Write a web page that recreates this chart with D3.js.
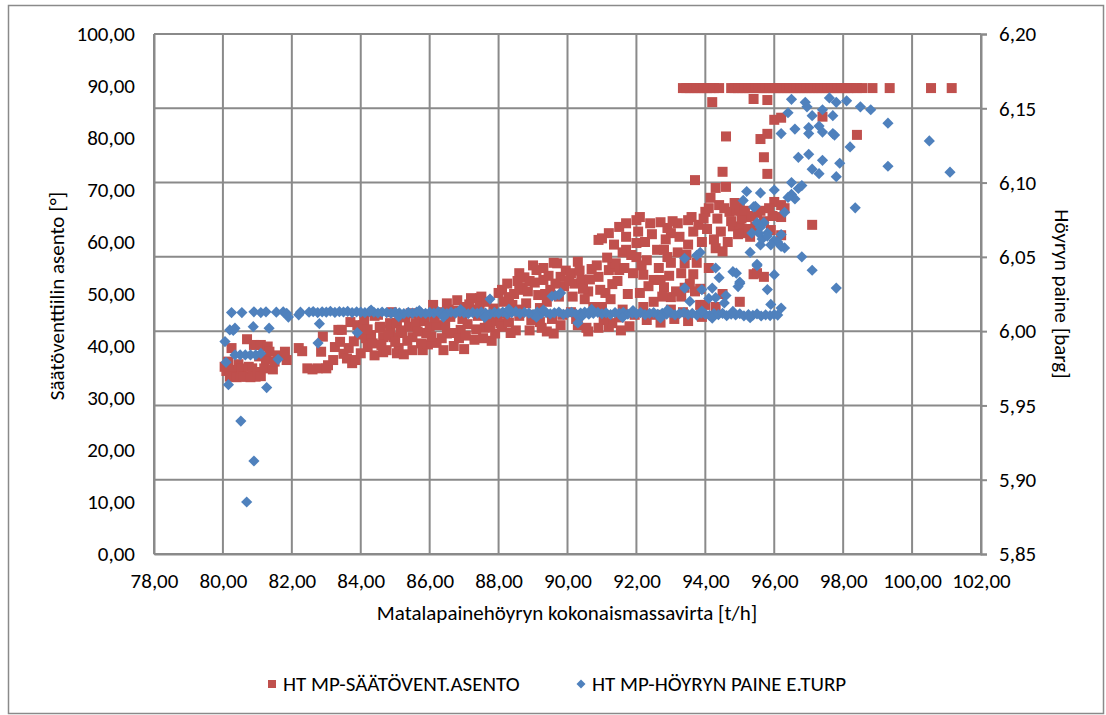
<!DOCTYPE html>
<html><head><meta charset="utf-8">
<script src="https://cdn.jsdelivr.net/npm/d3@7"></script>
<style>
body{margin:0;background:#fff}
svg text{font-family:Carlito,Lato,"Open Sans",sans-serif;fill:#000}
</style>
</head><body><svg id="c" width="1106" height="715"></svg>
<script>
// ---------- tick labels ----------
const xTicks = [78,80,82,84,86,88,90,92,94,96,98,100,102];
const leftTicks = [0,10,20,30,40,50,60,70,80,90,100];
const rightTicks = [5.85,5.90,5.95,6.00,6.05,6.10,6.15,6.20];

const seriesNames = ["HT MP-SÄÄTÖVENT.ASENTO","HT MP-HÖYRYN PAINE E.TURP"];
const xTitle = "Matalapainehöyryn kokonaismassavirta [t/h]";
const leftTitle = "Säätöventtiilin asento [°]";
const rightTitle = "Höyryn paine [barg]";

// ---------- series 1: valve position [°] (left axis) ----------
const asentoPoints = [
[80.05,36.0],[80.1,35.2],[80.15,37.0],[80.2,34.1],[80.25,39.6],[80.3,35.4],[80.35,34.1],[80.4,34.0],[80.45,36.5],[80.5,34.2],
[80.55,35.7],[80.6,34.1],[80.7,34.1],[80.7,41.3],[80.75,36.0],[80.8,34.0],[80.85,35.7],[80.9,40.2],[80.95,34.1],[81.0,35.0],
[81.05,38.0],[81.1,34.2],[81.1,40.2],[81.2,35.7],[81.25,37.5],[81.3,39.9],[81.35,38.9],[81.45,35.5],[81.5,37.0],[81.6,38.2],
[81.8,38.9],[81.85,37.3],
[82.2,39.6],[82.3,39.0],[82.45,35.7],[82.6,35.5],[82.75,35.7],[82.85,38.9],[82.9,41.8],[83.0,35.7],[83.05,36.3],[83.2,37.3],
[83.25,39.8],[83.35,43.1],[83.4,40.8],[83.45,43.1],[83.5,38.5],[83.6,37.6],[83.65,39.6],[83.7,44.6],[83.75,36.7],[83.8,40.9],
[83.85,37.3],[83.9,44.0],[83.95,42.2],[84.0,38.6],
[84.07,44.0],[84.1,45.0],[84.15,41.5],[84.2,39.8],[84.3,42.1],[84.4,38.2],[84.55,43.5],[84.56,43.7],[84.65,41.7],[84.65,38.8],
[84.75,39.2],[84.85,43.1],[84.85,44.4],[84.95,41.7],[85.05,44.4],[85.05,38.6],[85.1,39.6],[85.2,42.5],[85.3,45.5],[85.4,43.7],
[85.5,41.7],[85.5,39.2],[85.6,44.4],[85.7,46.0],[85.8,39.2],[85.9,42.5],[85.95,40.3],[84.4,45.8],[84.9,46.5],[85.25,38.4],
[84.2,43.2],[84.35,40.5],[84.5,46.0],[84.6,40.2],[84.8,42.0],[85.0,40.8],[85.15,43.0],[85.35,41.0],[85.45,46.3],[85.65,42.8],
[85.75,40.5],[85.85,44.8],
[86.0,43.7],[86.1,47.9],[86.2,40.6],[86.2,44.0],[86.3,46.5],[86.4,39.2],[86.5,48.2],[86.5,42.4],[86.6,45.6],[86.7,40.0],
[86.8,48.8],[86.9,43.1],[87.0,47.5],[87.0,39.4],[87.1,44.2],[87.2,49.2],[87.3,41.2],[87.4,45.8],[87.46,49.2],[87.5,49.5],
[87.6,43.5],[87.7,45.0],[87.8,41.0],[87.9,42.4],[86.35,41.5],[87.25,47.0],
[86.05,41.8],[86.15,45.5],[86.45,44.0],[86.55,47.0],[86.65,42.5],[86.75,46.8],[86.85,41.5],[86.95,45.2],[87.05,42.0],[87.15,48.0],
[87.35,43.2],[87.45,47.5],[87.55,41.5],[87.65,48.5],[87.75,43.8],[87.85,47.2],[87.95,44.8],
[88.0,50.2],[88.05,44.4],[88.1,50.8],[88.1,43.7],[88.2,46.3],[88.3,49.4],[88.3,44.5],[88.4,47.9],[88.5,43.0],[88.6,54.0],
[88.6,50.8],[88.6,45.8],[88.7,51.3],[88.75,53.2],[88.8,48.2],[88.9,52.5],[88.9,43.0],[89.0,55.5],[89.0,46.0],[89.1,54.6],
[89.2,47.3],[89.2,44.6],[89.3,55.0],[89.3,52.7],[89.4,48.5],[89.4,42.8],[89.5,50.8],[89.6,56.0],[89.6,42.4],[89.7,55.9],
[89.8,53.3],[89.8,44.0],[89.9,51.5],
[88.15,48.5],[88.25,52.0],[88.35,42.5],[88.45,50.0],[88.55,52.5],[88.65,47.0],[88.85,50.5],[88.95,45.0],[89.05,52.2],[89.15,49.8],
[89.25,43.5],[89.35,50.0],[89.45,53.5],[89.55,45.2],[89.65,52.0],[89.75,49.5],[89.85,46.0],[89.95,54.5],
[90.1,54.0],[90.1,46.5],[90.2,52.0],[90.3,56.2],[90.3,44.0],[90.4,52.7],[90.5,49.0],[90.6,50.5],[90.6,42.8],[90.7,54.8],
[90.9,53.3],[90.9,60.4],[90.9,43.5],[91.0,60.7],[91.0,47.5],[91.1,50.2],[91.2,61.7],[91.2,54.6],[91.2,43.7],[91.3,55.2],
[91.3,51.9],[91.3,44.4],[91.4,55.9],[91.5,54.6],[91.5,62.9],[91.5,45.5],[91.6,58.0],[91.6,47.0],[91.7,63.6],[91.7,61.0],
[91.7,58.5],[91.8,43.8],[91.9,54.0],[92.0,64.2],[92.0,59.8],[92.0,57.1],
[90.05,52.5],[90.15,49.5],[90.25,45.2],[90.35,54.5],[90.45,51.0],[90.55,43.5],[90.65,52.8],[90.75,47.5],[90.85,55.5],[90.95,50.8],
[91.05,45.0],[91.15,57.0],[91.25,49.0],[91.35,59.5],[91.45,52.5],[91.55,43.0],[91.65,55.0],[91.75,50.0],[91.85,57.5],[91.95,46.0],
[92.1,64.8],[92.1,50.2],[92.2,53.7],[92.2,47.5],[92.3,56.5],[92.3,45.0],[92.4,63.6],[92.5,52.7],[92.5,48.5],[92.6,58.5],
[92.7,63.8],[92.7,52.7],[92.7,44.5],[92.8,58.5],[92.8,51.3],[92.9,62.7],[92.9,57.1],[93.0,61.7],[93.0,56.0],[93.0,49.4],
[93.0,47.0],[93.1,45.2],[93.2,63.6],[93.2,58.0],[93.3,54.0],[93.3,49.5],[93.4,55.9],[93.4,51.2],[93.5,64.2],[93.5,59.5],
[93.5,44.8],[93.6,64.8],[93.65,53.8],[93.7,71.9],[93.7,50.5],[93.8,63.3],[93.85,47.9],[93.9,60.0],[93.9,45.6],[94.0,65.8],
[94.0,47.9],
[92.05,62.0],[92.15,55.5],[92.25,60.0],[92.35,51.5],[92.45,61.5],[92.55,46.0],[92.65,55.0],[92.75,49.5],[92.85,60.5],[92.95,53.5],
[93.05,64.0],[93.15,50.5],[93.25,61.0],[93.35,46.5],[93.45,57.5],[93.55,52.0],[93.65,62.0],[93.75,56.0],[93.85,51.0],[93.95,64.5],
[94.1,66.5],[94.1,55.0],[94.2,86.9],[94.3,70.4],[94.3,58.8],[94.3,47.5],[94.4,67.1],[94.5,73.5],[94.5,58.2],[94.5,50.0],
[94.6,80.3],[94.6,70.6],[94.7,65.8],[94.8,63.0],[94.9,66.0],[95.0,66.7],[95.0,62.7],[95.0,48.5],[95.1,61.7],[95.2,64.8],
[95.3,61.0],[95.4,87.5],[95.4,53.8],[95.5,65.6],[95.5,54.0],[95.6,79.8],[95.7,76.3],[95.7,53.3],[95.8,87.3],[95.8,80.8],
[95.8,73.1],[95.9,62.3],[96.0,83.5],[96.0,67.7],[96.2,83.9],[96.2,67.1],[96.2,64.8],[96.2,61.3],[96.3,66.5],
[94.05,62.5],[94.15,68.5],[94.25,60.5],[94.35,64.5],[94.45,62.0],[94.55,66.5],[94.65,60.0],[94.75,64.0],[94.85,67.5],[94.95,61.5],
[95.05,64.5],[95.15,66.0],[95.25,62.5],[95.35,65.0],[95.45,63.0],[95.6,66.0],[95.7,64.0],[95.85,66.5],[95.95,65.0],
[97.1,63.3],[97.4,84.1],[98.4,80.6],
[93.35,89.6],[93.45,89.6],[93.55,89.6],[93.65,89.6],[93.75,89.6],[93.85,89.6],[93.95,89.6],[94.05,89.6],[94.15,89.6],[94.25,89.6],
[94.4,89.6],[94.75,89.6],[94.85,89.6],[94.95,89.6],[95.05,89.6],[95.15,89.6],[95.25,89.6],[95.35,89.6],[95.45,89.6],[95.55,89.6],
[95.65,89.6],[95.75,89.6],[95.85,89.6],[95.95,89.6],[96.05,89.6],[96.15,89.6],[96.25,89.6],[96.35,89.6],[96.45,89.6],[96.55,89.6],
[96.65,89.6],[96.75,89.6],[96.85,89.6],[96.95,89.6],[97.05,89.6],[97.15,89.6],[97.25,89.6],[97.35,89.6],[97.45,89.6],[97.55,89.6],
[97.65,89.6],[97.75,89.6],[97.85,89.6],[97.95,89.6],[98.05,89.6],[98.15,89.6],[98.25,89.6],[98.4,89.6],[98.55,89.6],[98.85,89.6],
[99.35,89.6],[100.55,89.6],[101.15,89.6]
];

// ---------- series 2: steam pressure [barg] (right axis) ----------
const painePoints = [
[80.2,6.0008],[80.35,6.002],[80.88,6.003],[81.34,6.002],[80.06,5.993],[80.09,5.979],[80.35,5.984],[80.5,5.984],[80.65,5.984],
[80.8,5.984],[80.95,5.984],[81.1,5.985],[81.6,5.981],[80.16,5.964],[81.27,5.962],[80.52,5.9395],[80.9,5.9126],[80.69,5.885],
[80.3,6.0005],[82.8,6.005],[82.76,5.992],[83.9,5.999],
[80.25,6.0125],[80.55,6.0125],[80.9,6.013],[81.1,6.0125],[81.25,6.013],[81.55,6.0128],[81.75,6.013],[81.85,6.012],[82.25,6.0128],
[81.9,6.0095],[82.2,6.011],
[82.5,6.0128],[82.62,6.0132],[82.75,6.0125],[82.88,6.013],[83.0,6.0128],[83.12,6.0134],[83.25,6.0126],[83.38,6.0131],[83.5,6.0129],
[83.62,6.0133],[83.75,6.0125],[83.88,6.013],[84.0,6.0128],[84.12,6.0124],[84.25,6.0131],[84.38,6.0127],[84.5,6.0122],[84.62,6.0129],
[84.75,6.0125],[84.88,6.012],[85.0,6.0127],[85.12,6.0123],[85.25,6.0118],[85.38,6.0126],[85.5,6.0121],[85.62,6.0128],[85.75,6.0124],
[85.88,6.0119],[86.0,6.0126],[86.12,6.0122],[86.25,6.013],[86.38,6.0124],[86.5,6.0118],[86.62,6.0127],[86.75,6.0121],[86.88,6.0129],
[87.0,6.0123],[87.12,6.0117],[87.25,6.0125],[87.38,6.012],[87.5,6.0128],[87.62,6.0122],[87.75,6.0116],[87.88,6.0126],[88.0,6.0121],
[88.12,6.0129],[88.25,6.0114],[88.38,6.0124],[88.5,6.0131],[88.62,6.0118],[88.75,6.0126],[88.88,6.0121],[89.0,6.0112],[89.12,6.0128],
[89.25,6.0119],[89.38,6.0125],[89.5,6.0116],[89.62,6.0123],[89.75,6.0129],[89.88,6.0113],[90.0,6.0121],[90.12,6.0127],[90.25,6.0115],
[90.38,6.0122],[90.5,6.0128],[90.62,6.0114],[90.75,6.012],[90.88,6.0126],[91.0,6.0117],[91.12,6.0123],[91.25,6.0112],[91.38,6.0125],
[91.5,6.0119],[91.62,6.0127],[91.75,6.0114],[91.88,6.0121],[92.0,6.0116],[92.12,6.0124],[92.25,6.0111],[92.38,6.0119],[92.5,6.0125],
[92.62,6.0113],[92.75,6.012],[92.88,6.0115],[93.0,6.0122],[93.12,6.011],[93.25,6.0118],[93.38,6.0124],[93.5,6.0112],[93.62,6.0119],
[93.75,6.0108],[93.88,6.0121],[94.0,6.0114],[94.12,6.0106],[94.25,6.0118],[94.38,6.0111],[94.5,6.012],[94.62,6.0104],[94.75,6.0115],
[94.88,6.0109],[95.0,6.0117],[95.12,6.0103],[95.25,6.0112],[95.38,6.0107],[95.5,6.0116],[95.62,6.0102],[95.75,6.011],[95.88,6.0105],
[96.0,6.0112],[96.1,6.0108],
[84.3,6.0142],[85.7,6.0138],[86.9,6.0145],[88.3,6.0148],[89.3,6.0142],[90.7,6.0146],[91.9,6.0139],[92.9,6.0142],[93.9,6.0135],
[94.8,6.0133],[85.1,6.0098],[86.4,6.0095],[87.6,6.0092],[89.1,6.0094],[90.4,6.0096],[91.6,6.0092],[92.7,6.0089],[94.2,6.0088],
[95.3,6.009],[96.2,6.0155],
[87.75,6.0216],[89.55,6.0235],[89.8,6.0257],[89.65,6.024],[89.75,6.0245],[90.3,6.0055],
[93.4,6.049],[93.75,6.051],[93.85,6.053],[94.3,6.0425],[94.4,6.036],[94.8,6.04],[95.0,6.032],[94.2,6.029],[93.9,6.028],
[93.4,6.029],[94.1,6.022],[94.3,6.0225],[94.6,6.024],[94.55,6.019],[95.8,6.028],[96.0,6.038],[95.5,6.045],[94.9,6.039],
[95.5,6.044],[96.8,6.05],[97.1,6.041],[97.8,6.029],[95.3,6.053],[95.6,6.058],[96.3,6.056],[95.0,6.033],[93.55,6.020],
[94.95,6.03],[95.9,6.018],
[95.2,6.094],[95.4,6.0836],[95.6,6.093],[95.7,6.073],[95.8,6.066],[96.0,6.061],[96.2,6.065],[96.0,6.095],[96.3,6.080],
[96.5,6.092],[96.6,6.089],[96.5,6.156],[96.9,6.154],[96.95,6.151],[97.6,6.157],[97.8,6.154],[98.1,6.155],[98.5,6.151],
[98.8,6.149],[99.3,6.14],[100.5,6.128],[101.1,6.107],[99.3,6.111],[98.2,6.124],[98.35,6.083],[96.4,6.147],[97.1,6.145],
[97.4,6.149],[97.7,6.145],[96.6,6.136],[97.0,6.137],[97.0,6.133],[97.3,6.138],[97.4,6.134],[97.7,6.133],[97.75,6.132],
[96.2,6.133],[96.7,6.117],[97.0,6.119],[97.4,6.115],[97.9,6.113],[97.1,6.109],[97.3,6.106],[97.8,6.104],[96.5,6.1],
[96.7,6.096],[96.8,6.098],[96.4,6.09],[95.45,6.084],[95.1,6.088],[95.5,6.073],[95.6,6.070],[95.55,6.066],[95.65,6.062],
[95.8,6.064],[96.1,6.060],[96.2,6.057],[95.35,6.066],[95.9,6.058]
];

// ---------- drawing ----------
const svg = d3.select("#c");
const fmtLoc = d3.formatLocale({decimal:",",thousands:" ",grouping:[3],currency:["","€"]});
const fmt = fmtLoc.format(".2f");
const gridCol = "#8a8a8a";
const redCol = "#C0504D", blueCol = "#4F81BD";
const FS = 21;

const x = d3.scaleLinear().domain([78,102]).range([154,981]);
const yL = d3.scaleLinear().domain([0,100]).range([554,34]);
const yR = d3.scaleLinear().domain([5.85,6.20]).range([554,34]);

svg.append("rect").attr("x",8.5).attr("y",5.5).attr("width",1095).attr("height",708)
  .attr("fill","#fff").attr("stroke","#8a8a8a").attr("stroke-width",1.5);

svg.append("g").selectAll("line").data(rightTicks).join("line")
  .attr("x1",154).attr("x2",981).attr("y1",d=>yR(d)).attr("y2",d=>yR(d))
  .attr("stroke",gridCol).attr("stroke-width",2);
svg.append("g").selectAll("line").data(xTicks).join("line")
  .attr("x1",d=>x(d)).attr("x2",d=>x(d)).attr("y1",34).attr("y2",554)
  .attr("stroke",gridCol).attr("stroke-width",2);

const gL = svg.append("g").attr("transform","translate(154,0)")
  .call(d3.axisLeft(yL).tickValues(leftTicks).tickSize(0).tickPadding(19).tickFormat(fmt));
const gR = svg.append("g").attr("transform","translate(981,0)")
  .call(d3.axisRight(yR).tickValues(rightTicks).tickSize(6).tickPadding(12).tickFormat(fmt));
const gB = svg.append("g").attr("transform","translate(0,554)")
  .call(d3.axisBottom(x).tickValues(xTicks).tickSize(0).tickPadding(19).tickFormat(fmt));
[gL,gR,gB].forEach(g=>{
  g.select(".domain").attr("stroke",gridCol).attr("stroke-width",2);
  g.selectAll(".tick line").attr("stroke",gridCol).attr("stroke-width",2);
  g.selectAll("text").attr("font-size",FS).attr("font-family","Carlito,Lato,sans-serif").attr("fill","#000");
});

svg.append("g").selectAll("rect").data(asentoPoints).join("rect")
  .attr("x",d=>x(d[0])-5).attr("y",d=>yL(d[1])-5)
  .attr("width",10).attr("height",10).attr("fill",redCol);

const diamond = "M0,-5.6L5.6,0L0,5.6L-5.6,0Z";
svg.append("g").selectAll("path").data(painePoints).join("path")
  .attr("d",diamond).attr("transform",d=>`translate(${x(d[0])},${yR(d[1])})`)
  .attr("fill",blueCol);

svg.append("text").attr("x",567).attr("y",620).attr("text-anchor","middle")
  .attr("font-size",FS).text(xTitle);
svg.append("text").attr("transform","translate(64,296) rotate(-90)").attr("text-anchor","middle")
  .attr("font-size",FS).text(leftTitle);
svg.append("text").attr("transform","translate(1055,294) rotate(90)").attr("text-anchor","middle")
  .attr("font-size",FS).text(rightTitle);

const leg = svg.append("g");
leg.append("rect").attr("x",268).attr("y",680).attr("width",8).attr("height",8).attr("fill",redCol);
leg.append("text").attr("x",283).attr("y",691).attr("font-size",FS).text(seriesNames[0]);
leg.append("path").attr("d","M0,-4.5L4.5,0L0,4.5L-4.5,0Z").attr("transform","translate(581,684)").attr("fill",blueCol);
leg.append("text").attr("x",592).attr("y",691).attr("font-size",FS).text(seriesNames[1]);
</script></body></html>
